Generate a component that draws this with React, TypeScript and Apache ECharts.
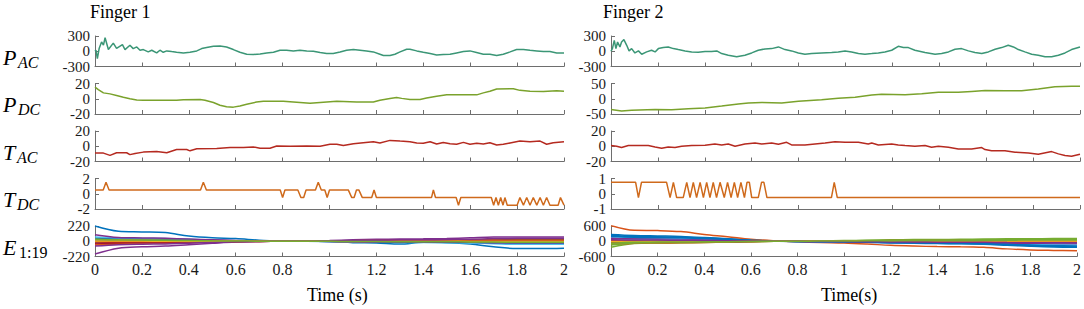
import React, { useEffect, useRef } from "react";
import * as echarts from "echarts";

type P = [number, number];

// ---------- Finger 1 ----------
const pacF1: P[] = [[0,0],[0.004,20],[0.010,-145],[0.018,60],[0.028,184],[0.036,120],[0.043,265],[0.057,33],[0.078,160],[0.092,55],[0.117,130],[0.128,33],[0.149,118],[0.163,52],[0.178,85],[0.192,20],[0.206,33],[0.227,-13],[0.242,20],[0.263,-33],[0.277,20],[0.291,-20],[0.306,7],[0.327,-7],[0.348,-20],[0.377,-33],[0.405,-20],[0.434,7],[0.455,52],[0.476,72],[0.505,98],[0.533,105],[0.561,85],[0.590,33],[0.618,-20],[0.647,-60],[0.675,-65],[0.704,-52],[0.732,-33],[0.761,-20],[0.789,20],[0.817,20],[0.846,7],[0.874,20],[0.903,7],[0.931,0],[0.960,-26],[0.988,-46],[1.016,-46],[1.045,-13],[1.073,20],[1.102,33],[1.130,20],[1.158,7],[1.187,-13],[1.215,-60],[1.230,-85],[1.258,-85],[1.279,-60],[1.301,-13],[1.329,40],[1.343,40],[1.372,7],[1.400,-20],[1.429,-46],[1.457,-72],[1.485,-65],[1.514,-60],[1.542,-33],[1.571,-7],[1.599,7],[1.627,-26],[1.656,-60],[1.684,-60],[1.713,-85],[1.741,-60],[1.770,-13],[1.798,33],[1.827,33],[1.855,20],[1.884,7],[1.912,-7],[1.940,-7],[1.969,-33],[2.0,-33]];

const pdcF1: P[] = [[0,15.3],[0.014,12],[0.036,7.7],[0.064,6.4],[0.092,4.3],[0.121,2],[0.149,0],[0.178,-1.7],[0.206,-2],[0.263,-2],[0.348,-2],[0.377,-1.3],[0.448,-0.9],[0.469,-2],[0.505,-5],[0.533,-8.5],[0.561,-10.6],[0.590,-11],[0.618,-9.4],[0.647,-7.2],[0.689,-4.3],[0.718,-3.4],[0.803,-3.4],[0.860,-4.7],[0.917,-6],[0.974,-4.7],[1.031,-3.4],[1.116,-4.3],[1.187,-4.3],[1.215,-2],[1.258,0.4],[1.286,1.7],[1.308,0.5],[1.343,-0.9],[1.386,-0.9],[1.414,0.9],[1.457,3.4],[1.500,5.1],[1.628,5.1],[1.656,7.7],[1.684,9.8],[1.713,12.8],[1.784,13.2],[1.812,11],[1.855,9.8],[1.912,9.4],[1.969,10.6],[2.0,9.8]];

const tacF1: P[] = [[0,-9],[0.036,-9],[0.064,-12],[0.092,-8.5],[0.135,-8.5],[0.149,-11],[0.171,-9.4],[0.206,-7.7],[0.263,-6.8],[0.306,-8.5],[0.348,-4.3],[0.391,-4.3],[0.405,-6],[0.434,-3.4],[0.519,-3],[0.576,-1.7],[0.633,-1.7],[0.675,-0.9],[0.704,-2.6],[0.746,-2.6],[0.775,0.4],[0.832,0],[0.903,0.4],[0.960,0],[1.002,2.6],[1.031,2.6],[1.059,0.9],[1.102,3.4],[1.144,4.7],[1.187,6],[1.215,4.3],[1.258,7.7],[1.301,6.8],[1.343,6],[1.372,4.3],[1.400,3.8],[1.429,6],[1.457,3],[1.485,5],[1.514,3.4],[1.542,2.6],[1.571,5.1],[1.599,2.6],[1.628,3.8],[1.656,3],[1.684,4.7],[1.713,1.7],[1.741,2.6],[1.770,4.3],[1.812,6.8],[1.855,6],[1.898,6.8],[1.926,2.6],[1.954,4.7],[2.0,6]];

const tdcF1: P[] = [[0,0.5],[0.035,0.5],[0.047,1.5],[0.06,0.5],[0.45,0.5],[0.462,1.5],[0.475,0.5],[0.79,0.5],[0.80,-0.5],[0.81,0.5],[0.865,0.5],[0.878,-0.5],[0.89,-0.5],[0.90,0.5],[0.94,0.5],[0.952,1.5],[0.965,0.5],[0.98,0.5],[0.99,-0.5],[1.0,0.5],[1.08,0.5],[1.095,-0.5],[1.105,-0.5],[1.115,0.5],[1.125,0.5],[1.14,-0.5],[1.18,-0.5],[1.19,0.5],[1.20,-0.5],[1.435,-0.5],[1.443,0.5],[1.452,-0.5],[1.54,-0.5],[1.55,-1.5],[1.56,-0.5],[1.69,-0.5],[1.70,-1.5],[1.71,-0.5],[1.72,-1.5],[1.73,-0.5],[1.74,-1.5],[1.748,-0.5],[1.758,-1.5],[1.80,-1.5],[1.812,-0.5],[1.827,-1.5],[1.841,-0.5],[1.855,-1.5],[1.869,-0.5],[1.884,-1.5],[1.898,-0.5],[1.912,-1.5],[1.926,-0.5],[1.94,-1.5],[1.975,-1.5],[1.985,-0.5],[2.0,-1.5]];

// ---------- Finger 2 ----------
const pacF2: P[] = [[0,0],[0.006,52],[0.014,215],[0.021,52],[0.028,183],[0.038,85],[0.045,183],[0.055,228],[0.067,117],[0.077,7],[0.088,52],[0.102,-33],[0.117,7],[0.131,-59],[0.152,-13],[0.173,20],[0.188,-13],[0.202,52],[0.223,72],[0.244,85],[0.266,52],[0.287,33],[0.316,7],[0.344,-13],[0.372,-20],[0.401,-7],[0.429,-7],[0.451,7],[0.472,-46],[0.500,-78],[0.536,-110],[0.571,-78],[0.600,-33],[0.628,20],[0.657,46],[0.685,52],[0.714,85],[0.742,33],[0.770,7],[0.799,-33],[0.827,-59],[0.856,-46],[0.898,-33],[0.941,-26],[0.969,-13],[0.998,7],[1.026,-13],[1.055,-46],[1.083,-59],[1.112,-46],[1.140,-33],[1.168,-13],[1.197,20],[1.225,98],[1.247,72],[1.268,72],[1.296,20],[1.339,-26],[1.382,-59],[1.410,-46],[1.439,-13],[1.467,39],[1.495,52],[1.524,7],[1.552,-26],[1.581,-46],[1.609,-13],[1.638,39],[1.666,72],[1.694,117],[1.716,85],[1.737,33],[1.765,-13],[1.794,-59],[1.822,-78],[1.851,-110],[1.879,-110],[1.908,-78],[1.936,-33],[1.964,33],[2.0,85]];

const pdcF2: P[] = [[0,-35],[0.045,-40],[0.088,-38],[0.188,-35],[0.259,-36],[0.330,-33],[0.401,-30],[0.472,-24],[0.543,-17],[0.586,-14],[0.643,-12],[0.728,-14],[0.799,-8.5],[0.898,-3],[0.969,2],[1.041,5],[1.112,12],[1.154,15],[1.254,13],[1.325,16],[1.396,21],[1.481,21],[1.538,24],[1.595,27],[1.680,26],[1.751,26],[1.822,32],[1.893,39],[1.964,41],[2.0,41]];

const tacF2: P[] = [[0,0.9],[0.024,0],[0.045,-1.7],[0.074,0.9],[0.159,0.9],[0.188,-0.9],[0.216,-2.6],[0.244,-0.9],[0.273,-1.7],[0.301,0],[0.344,0.9],[0.401,1.3],[0.443,3],[0.472,1.7],[0.500,3],[0.529,0],[0.571,3],[0.614,4.3],[0.643,3],[0.685,4.3],[0.714,2.6],[0.749,5.2],[0.770,1.7],[0.827,1.7],[0.870,3],[0.913,4.3],[0.955,6],[0.998,5.2],[1.055,5.2],[1.097,3],[1.112,4.3],[1.140,1.7],[1.197,3],[1.225,1.7],[1.254,0.9],[1.296,0],[1.339,0.9],[1.367,-1.3],[1.396,0],[1.439,-1.3],[1.481,-3.5],[1.538,-3.5],[1.581,-1.7],[1.595,-4.3],[1.623,-6],[1.680,-6],[1.723,-7.8],[1.780,-8.7],[1.822,-10.4],[1.879,-7],[1.908,-10],[1.936,-12.2],[1.964,-13],[2.0,-10.4]];

const tdcF2: P[] = [[0,0.75],[0.105,0.75],[0.117,-0.25],[0.13,0.75],[0.237,0.75],[0.252,-0.25],[0.266,0.75],[0.28,-0.25],[0.308,-0.25],[0.323,0.75],[0.337,-0.25],[0.351,0.75],[0.365,-0.25],[0.38,0.75],[0.394,-0.25],[0.408,0.75],[0.422,-0.25],[0.436,0.75],[0.45,-0.25],[0.465,0.75],[0.483,-0.25],[0.497,0.75],[0.512,-0.25],[0.526,0.75],[0.54,-0.25],[0.554,0.75],[0.569,-0.25],[0.58,0.75],[0.59,0.75],[0.60,-0.25],[0.628,-0.25],[0.642,0.75],[0.652,0.75],[0.665,-0.25],[0.94,-0.25],[0.952,0.75],[0.965,-0.25],[2.0,-0.25]];

// ---------- E_{1:19} (values at eTimes) ----------
const eTimes = [0,0.1,0.2,0.3,0.4,0.5,0.6,0.7,0.8,0.9,1.0,1.1,1.2,1.3,1.4,1.5,1.6,1.7,1.8,1.9,2.0];

const eF1: number[][] = [
  [220,145,135,125,75,50,40,15,0,0,-5,-20,-25,-40,-15,-20,-40,-80,-105,-105,-100],
  [35,25,20,18,12,8,4,1,0,0,2,6,10,12,14,15,18,22,24,24,24],
  [15,10,8,7,5,3,2,1,0,0,1,3,5,6,7,8,10,12,12,12,12],
  [-185,-100,-80,-70,-50,-30,-12,-3,0,3,10,20,28,32,35,40,50,60,62,62,62],
  [8,5,4,3,2,1,0,0,0,0,0,-2,-4,-6,-8,-10,-12,-15,-18,-18,-18],
  [60,48,42,38,28,18,10,4,0,0,-3,-8,-12,-16,-18,-20,-25,-35,-45,-45,-45],
  [-40,-28,-24,-20,-15,-10,-5,-2,0,0,2,5,8,10,12,14,16,22,26,26,26],
  [40,30,26,22,16,10,5,2,0,0,-2,-5,-8,-10,-10,-12,-14,-20,-25,-25,-25],
  [-55,-38,-32,-28,-20,-12,-6,-2,0,0,3,8,10,12,14,15,18,25,30,30,30],
  [25,18,15,12,8,5,2,1,0,0,-1,-3,-4,-5,-6,-6,-8,-10,-10,-10,-10],
  [95,55,48,42,32,22,12,4,0,0,-3,-8,-10,-12,-12,-14,-15,-20,-22,-22,-22],
  [-15,-12,-10,-8,-6,-4,-2,-1,0,0,2,4,5,6,7,8,10,12,14,14,14],
  [-8,-6,-5,-4,-3,-2,-1,0,0,0,1,2,3,3,4,4,5,6,6,6,6],
  [-25,-20,-17,-15,-11,-7,-3,-1,0,0,1,3,5,6,8,8,10,12,14,14,14],
  [12,9,8,6,4,2,1,0,0,0,0,-1,-2,-3,-4,-4,-5,-6,-7,-7,-7],
  [-5,-4,-3,-3,-2,-1,0,0,0,0,0,1,1,2,2,2,3,4,4,4,4],
  [3,2,2,1,1,0,0,0,0,0,0,0,-1,-1,-1,-1,-2,-2,-2,-2,-2],
  [-70,-50,-42,-38,-28,-18,-9,-3,0,0,4,10,16,20,22,25,30,38,42,42,42],
  [28,20,17,14,10,6,3,1,0,0,-1,-3,-5,-6,-7,-8,-10,-12,-13,-13,-13],
];

const eF2: number[][] = [
  [270,230,210,190,150,100,50,10,-10,-20,-30,-40,-60,-80,-90,-100,-120,-160,-200,-230,-240],
  [620,430,420,380,270,180,80,20,-20,-50,-70,-110,-160,-190,-210,-215,-240,-300,-340,-360,-375],
  [80,60,50,45,35,25,12,4,0,-5,-8,-12,-16,-20,-22,-25,-28,-32,-35,-36,-36],
  [140,110,100,90,70,45,20,5,-5,-15,-25,-35,-45,-55,-60,-65,-75,-85,-95,-98,-100],
  [-240,-90,-70,-60,-45,-30,-15,-4,5,15,25,40,55,65,70,75,85,95,100,105,107],
  [180,150,135,120,95,60,30,8,-5,-15,-25,-35,-50,-60,-70,-75,-90,-110,-130,-140,-145],
  [-60,-45,-40,-35,-28,-18,-8,-2,0,-5,-10,-15,-20,-25,-28,-30,-35,-40,-45,-48,-50],
  [230,190,175,160,125,85,40,10,-8,-18,-28,-38,-55,-70,-80,-88,-100,-130,-170,-200,-215],
  [-120,-80,-70,-62,-48,-32,-15,-4,2,8,14,20,28,34,38,40,45,52,58,60,62],
  [40,30,26,22,17,12,6,2,0,-3,-5,-8,-10,-12,-13,-14,-16,-18,-20,-20,-20],
  [100,80,72,64,50,34,16,4,-4,-12,-20,-28,-36,-44,-48,-52,-60,-70,-80,-85,-88],
  [-150,-70,-58,-50,-38,-25,-12,-3,3,10,18,28,38,46,50,54,62,70,76,80,82],
  [60,48,42,36,28,18,8,2,-2,-6,-10,-14,-18,-22,-25,-27,-30,-36,-42,-45,-46],
  [-30,-22,-20,-17,-13,-9,-4,-1,0,-3,-6,-9,-12,-15,-17,-18,-21,-25,-28,-30,-32],
  [200,160,148,135,105,70,35,9,-6,-16,-26,-36,-50,-64,-72,-80,-92,-120,-150,-175,-185],
  [20,15,13,11,8,5,2,1,0,-1,-2,-3,-4,-5,-6,-6,-7,-8,-9,-9,-9],
  [-20,-15,-13,-11,-8,-5,-2,-1,0,1,2,3,4,5,6,6,7,8,9,9,9],
  [60,50,45,40,32,22,10,3,-2,-8,-14,-20,-26,-32,-36,-38,-44,-52,-58,-62,-64],
  [-80,-40,-34,-30,-22,-15,-7,-2,2,6,10,16,22,27,30,32,36,42,46,48,50],
];

// y-axis half ranges per row for each finger (ticks at -L, 0, L)
const yLimitsF1 = [300, 20, 20, 2, 220];
const yLimitsF2 = [300, 50, 20, 1, 600];

const rowNames = [
  { main: "P", sub: "AC", subItalic: true },
  { main: "P", sub: "DC", subItalic: true },
  { main: "T", sub: "AC", subItalic: true },
  { main: "T", sub: "DC", subItalic: true },
  { main: "E", sub: "1:19", subItalic: false },
];

const titles = ["Finger 1", "Finger 2"];
const xTitles = ["Time (s)", "Time(s)"];

const rowColors = ["#3b9676", "#7aa22c", "#b52a20", "#cf6a1c"];
const eColors = ["#0072BD", "#D95319", "#EDB120", "#7E2F8E", "#77AC30", "#4DBEEE", "#A2142F"];

const SERIF = "'Liberation Serif', 'Times New Roman', serif";

export default function App() {
  const ref = useRef<HTMLDivElement>(null);

  useEffect(() => {
    if (!ref.current) return;
    const chart = echarts.init(ref.current, null, { renderer: "svg" });

    const colLeft = [95, 611];
    const colWidth = 469;
    const rowTop = [36, 83.5, 131, 178.5, 226];
    const rowH = 30.5;
    const axisColor = "#6e6e6e";

    const grids: any[] = [];
    const xAxes: any[] = [];
    const yAxes: any[] = [];
    const series: any[] = [];
    const graphics: any[] = [];

    const lineData = [
      [pacF1, pdcF1, tacF1, tdcF1],
      [pacF2, pdcF2, tacF2, tdcF2],
    ];
    const eData = [eF1, eF2];
    const limits = [yLimitsF1, yLimitsF2];

    for (let c = 0; c < 2; c++) {
      for (let r = 0; r < 5; r++) {
        const idx = grids.length;
        grids.push({ left: colLeft[c], top: rowTop[r], width: colWidth, height: rowH });
        xAxes.push({
          gridIndex: idx,
          type: "value",
          min: 0,
          max: 2,
          interval: 0.2,
          axisLine: { show: true, onZero: false, lineStyle: { color: axisColor, width: 1 } },
          axisTick: { show: true, inside: true, length: 4, lineStyle: { color: axisColor } },
          axisLabel: {
            show: r === 4,
            color: "#1a1a1a",
            fontFamily: SERIF,
            fontSize: 16,
            margin: 5,
          },
          splitLine: { show: false },
        });
        const L = limits[c][r];
        yAxes.push({
          gridIndex: idx,
          type: "value",
          min: -L,
          max: L,
          interval: L,
          axisLine: { show: true, onZero: false, lineStyle: { color: axisColor, width: 1 } },
          axisTick: { show: true, inside: true, length: 4, lineStyle: { color: axisColor } },
          axisLabel: { color: "#1a1a1a", fontFamily: SERIF, fontSize: 15, margin: 5 },
          splitLine: { show: false },
        });
        if (r < 4) {
          series.push({
            type: "line",
            xAxisIndex: idx,
            yAxisIndex: idx,
            data: lineData[c][r],
            showSymbol: false,
            lineStyle: { color: rowColors[r], width: 1.5 },
            itemStyle: { color: rowColors[r] },
          });
        } else {
          eData[c].forEach((vals, k) => {
            const col = eColors[k % eColors.length];
            series.push({
              type: "line",
              xAxisIndex: idx,
              yAxisIndex: idx,
              data: eTimes.map((t, i) => [t, vals[i]]),
              showSymbol: false,
              smooth: 0.35,
              lineStyle: { color: col, width: 1.5 },
              itemStyle: { color: col },
            });
          });
        }
      }
    }

    // row labels
    rowNames.forEach((rn, r) => {
      const base = rowTop[r];
      graphics.push({
        type: "text",
        left: 3,
        top: base + 10,
        style: {
          text: rn.main,
          fontFamily: SERIF,
          fontStyle: "italic",
          fontSize: 22,
          fill: "#000",
        },
      });
      graphics.push({
        type: "text",
        left: rn.main === "T" ? 17 : rn.main === "E" ? 19 : 18,
        top: base + 18,
        style: {
          text: rn.sub,
          fontFamily: SERIF,
          fontStyle: rn.subItalic ? "italic" : "normal",
          fontSize: 16,
          fill: "#000",
        },
      });
    });

    titles.forEach((t, c) => {
      graphics.push({
        type: "text",
        left: c === 0 ? 90 : 603,
        top: 3,
        style: { text: t, fontFamily: SERIF, fontSize: 18, fill: "#000" },
      });
    });
    xTitles.forEach((t, c) => {
      graphics.push({
        type: "text",
        left: c === 0 ? 307 : 821,
        top: 286,
        style: { text: t, fontFamily: SERIF, fontSize: 18, fill: "#000" },
      });
    });

    chart.setOption({
      animation: false,
      backgroundColor: "#ffffff",
      grid: grids,
      xAxis: xAxes,
      yAxis: yAxes,
      series,
      graphic: graphics,
    });

    return () => chart.dispose();
  }, []);

  return (
    <div
      ref={ref}
      style={{ position: "absolute", left: 0, top: 0, width: 1084, height: 309 }}
    />
  );
}
